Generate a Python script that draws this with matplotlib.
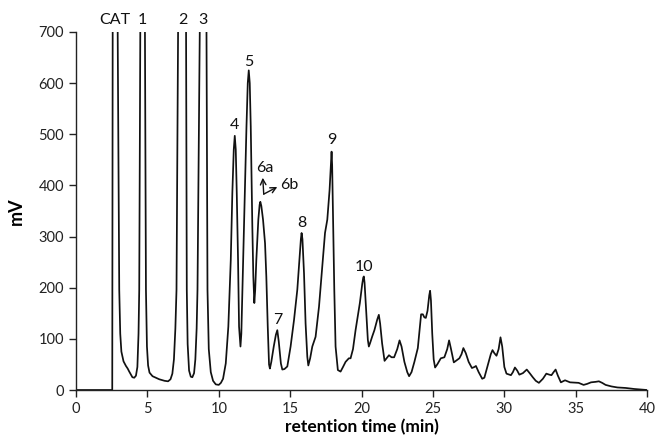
import matplotlib
matplotlib.use("Agg")
import matplotlib.pyplot as plt

# Chromatogram trace (retention time in min, signal in mV)
time_min = [
    0.0, 2.50, 2.54,
    2.57, 2.75, 2.92, 3.03, 3.10, 3.18, 3.33, 3.50, 3.62, 3.73, 3.85, 3.95, 4.08, 4.20, 4.30, 4.38,
    4.43, 4.50, 4.67, 4.83, 4.90, 4.97, 5.05, 5.15, 5.36, 5.83, 6.20, 6.45, 6.62, 6.75, 6.86, 6.96,
    7.04, 7.15, 7.43, 7.71, 7.76, 7.82, 7.92, 8.04, 8.15, 8.27, 8.36, 8.45,
    8.51, 8.67, 8.90, 9.14, 9.21, 9.30, 9.44, 9.60, 9.79, 10.00, 10.15, 10.30, 10.49,
    10.67, 10.84, 10.95, 11.05, 11.12, 11.19, 11.26, 11.35, 11.42, 11.52, 11.58, 11.65,
    11.82, 11.94, 12.03, 12.10, 12.17, 12.24, 12.35, 12.42, 12.49, 12.55, 12.63, 12.77,
    12.86, 12.91, 12.98, 13.10, 13.24, 13.33, 13.43, 13.52, 13.58, 13.68, 13.85, 14.00,
    14.10, 14.20, 14.35, 14.45, 14.60, 14.80, 15.03, 15.27, 15.50, 15.66, 15.75, 15.80,
    15.86, 15.97, 16.08, 16.20, 16.27, 16.40, 16.55, 16.78, 17.02, 17.25, 17.44, 17.60,
    17.76, 17.86, 17.90, 17.94, 17.99, 18.09, 18.18, 18.34, 18.53, 18.70, 18.88, 19.11,
    19.23, 19.40, 19.58, 19.88, 20.05, 20.12, 20.16, 20.21, 20.33, 20.44, 20.51, 20.60,
    20.75, 20.90, 21.10, 21.21, 21.30, 21.44, 21.61, 21.75, 21.92, 22.10, 22.28, 22.50,
    22.66, 22.80, 23.00, 23.20, 23.33, 23.50, 23.70, 23.94, 24.17, 24.29, 24.40, 24.50,
    24.62, 24.74, 24.80, 24.86, 24.95, 25.05, 25.15, 25.30, 25.55, 25.80, 26.00, 26.13,
    26.25, 26.46, 26.65, 26.85, 27.00, 27.13, 27.30, 27.50, 27.73, 27.90, 28.01, 28.20,
    28.45, 28.60, 28.85, 29.05, 29.17, 29.30, 29.45, 29.60, 29.73, 29.85, 30.00, 30.15,
    30.46, 30.60, 30.74, 30.90, 31.05, 31.30, 31.57, 31.80, 31.99, 32.20, 32.42, 32.70,
    32.94, 33.15, 33.30, 33.45, 33.59, 33.75, 33.96, 34.25, 34.60, 35.20, 35.55, 35.80,
    36.07, 36.40, 36.62, 36.85, 37.09, 37.50, 37.92, 38.50, 39.10, 39.60, 40.0,
]
signal_mv = [
    0, 0, 0,
    700, 1500, 700, 196, 110, 75, 56, 47, 42, 36, 30, 25, 24, 28, 45, 110,
    196, 700, 1500, 700, 196, 85, 48, 34, 27, 21, 18, 17, 21, 32, 60, 120,
    196, 700, 1500, 700, 196, 90, 38, 26, 25, 33, 60, 120,
    196, 700, 1500, 700, 196, 80, 35, 18, 11, 10, 14, 22, 52,
    124, 254, 385, 470, 497, 470, 385, 254, 124, 85, 110, 189,
    385, 515, 600, 625, 600, 515, 320, 222, 170, 195, 254, 333,
    362, 368, 360, 333, 287, 222, 124, 50, 42, 55, 85, 108,
    117, 95, 52, 40, 41, 46, 85, 137, 196, 261, 295, 307,
    295, 228, 130, 65, 48, 62, 85, 104, 163, 241, 307, 333,
    391, 445, 466, 440, 359, 196, 85, 39, 36, 45, 55, 62,
    62, 80, 117, 170, 208, 220, 222, 210, 150, 98, 85, 92,
    105, 117, 138, 147, 130, 91, 57, 62, 68, 64, 64, 80,
    97, 85, 55, 35, 27, 35, 55, 82, 148, 148, 142, 141,
    155, 185, 194, 175, 110, 60, 44, 50, 62, 64, 80, 97,
    82, 54, 58, 62, 70, 82, 72, 55, 43, 45, 47, 35,
    22, 24, 50, 70, 78, 72, 67, 80, 103, 85, 45, 32,
    29, 35, 44, 38, 30, 33, 40, 32, 25, 18, 14, 22,
    32, 30, 29, 35, 40, 28, 15, 19, 15, 14, 10, 12,
    15, 16, 17, 14, 10, 7, 5, 4, 2, 1, 0,
]

peak_labels = ["CAT", "1", "2", "3", "4", "5", "7", "8", "9", "10"]
label_time = [2.70, 4.66, 7.46, 8.90, 11.09, 12.10, 14.10, 15.80, 17.90, 20.16]
label_mv = [723, 723, 723, 723, 519, 642, 137, 326, 489, 241]

x_ticks = [0, 5, 10, 15, 20, 25, 30, 35, 40]
y_ticks = [0, 100, 200, 300, 400, 500, 600, 700]

plt.rcParams['font.family'] = ['Lato', 'DejaVu Sans']

fig = plt.figure(figsize=(6.55, 4.44), dpi=100)
ax = fig.add_axes([0.116, 0.1216, 0.872, 0.8064])
ax.plot(time_min, signal_mv, color='#111111', lw=1.25,
        solid_joinstyle='round', solid_capstyle='round')
ax.set_xlim(0, 40)
ax.set_ylim(0, 700)
ax.set_xticks(x_ticks)
ax.set_yticks(y_ticks)
for s in ['top', 'right']:
    ax.spines[s].set_visible(False)
for s in ['left', 'bottom']:
    ax.spines[s].set_linewidth(1.0)
    ax.spines[s].set_color('#222222')
ax.tick_params(direction='out', length=5, width=1.0, color='#222222',
               labelsize=10.5, labelcolor='#222222')

for lab, t, v in zip(peak_labels, label_time, label_mv):
    ax.text(t, v, lab, ha='center', va='center', fontsize=11.5, color='#111111', clip_on=False)

ax.text(13.22, 434, '6a', ha='center', va='center', fontsize=11.5, color='#111111')
ax.text(14.95, 401, '6b', ha='center', va='center', fontsize=11.5, color='#111111')
arrow = dict(arrowstyle='->', lw=1.0, color='#111111', shrinkA=0, shrinkB=0)
ax.annotate('', xy=(13.08, 415), xytext=(13.15, 383), arrowprops=arrow)
ax.annotate('', xy=(14.1, 397), xytext=(13.15, 383), arrowprops=arrow)

ax.set_xlabel('retention time (min)', fontsize=12.5, fontweight='bold', labelpad=2)
ax.set_ylabel('mV', fontsize=13, fontweight='bold', labelpad=10)

fig.savefig('out.png', dpi=100)
